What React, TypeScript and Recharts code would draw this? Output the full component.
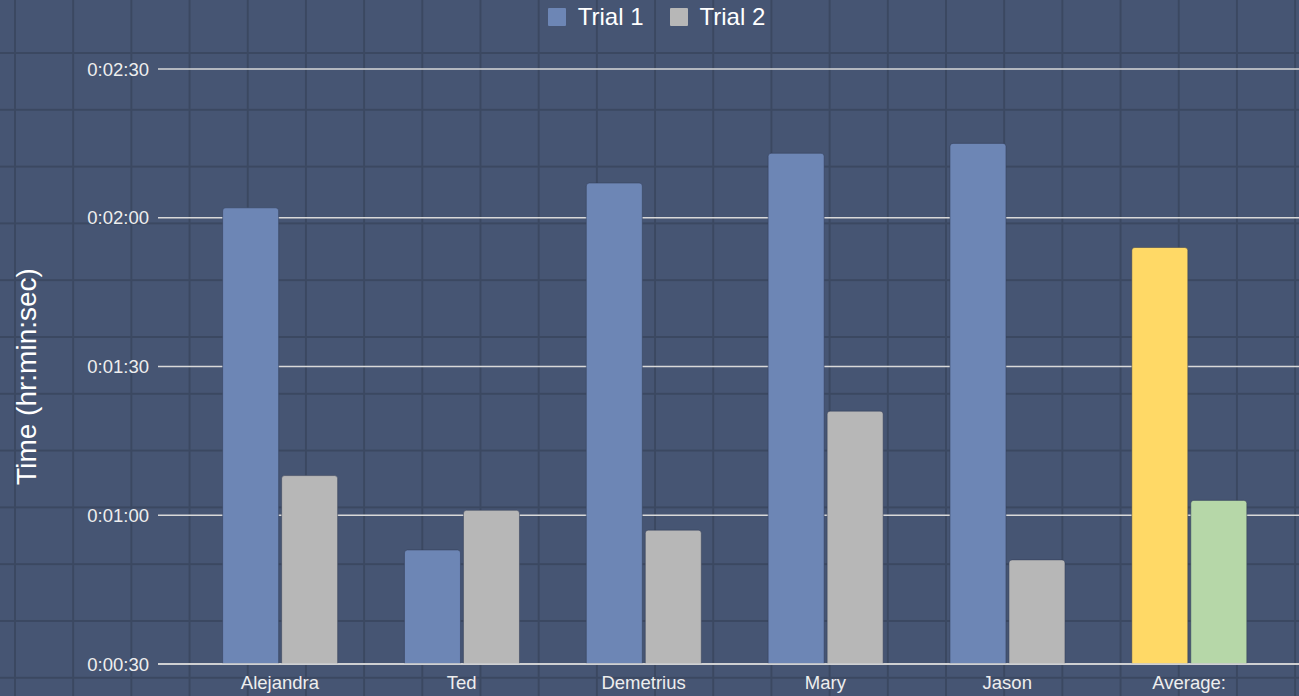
import React from 'react';
import { BarChart, Bar, XAxis, YAxis, CartesianGrid, Cell } from 'recharts';

const names = ['Alejandra', 'Ted', 'Demetrius', 'Mary', 'Jason', 'Average:'];
const trial1 = [122, 53, 127, 133, 135, 114];
const trial2 = [68, 61, 57, 81, 51, 63];
const yTicks = [30, 60, 90, 120, 150];
const seriesNames = ['Trial 1', 'Trial 2'];
const trial1Colors = ['#6d86b5', '#6d86b5', '#6d86b5', '#6d86b5', '#6d86b5', '#ffd966'];
const trial2Colors = ['#b7b7b7', '#b7b7b7', '#b7b7b7', '#b7b7b7', '#b7b7b7', '#b6d7a8'];

const data = names.map((n, i) => ({ name: n, t1: trial1[i], t2: trial2[i] }));

const fmt = (s: number) => {
  const m = Math.floor(s / 60);
  const sec = s % 60;
  return `0:${String(m).padStart(2, '0')}:${String(sec).padStart(2, '0')}`;
};

const font = '"Liberation Sans", Arial, sans-serif';

const LegendBox = () => (
  <div
    style={{
      position: 'absolute',
      left: 0,
      top: 4,
      width: 1299,
      display: 'flex',
      justifyContent: 'center',
      gap: 26,
      fontFamily: font,
      fontSize: 24,
      lineHeight: '26px',
      color: '#ffffff',
      paddingLeft: 14,
      boxSizing: 'border-box',
    }}
  >
    {seriesNames.map((n, i) => (
      <div key={n} style={{ display: 'flex', alignItems: 'center' }}>
        <div style={{ width: 18, height: 18, background: i === 0 ? '#6d86b5' : '#b7b7b7', marginRight: 12, borderRadius: 1 }} />
        <span>{n}</span>
      </div>
    ))}
  </div>
);

const YLabel = (props: any) => {
  const vb = props.viewBox || {};
  const x = 26;
  const y = (vb.y || 0) + (vb.height || 0) / 2 + 10;
  return (
    <text x={x} y={y} transform={`rotate(-90, ${x}, ${y})`} textAnchor="middle" dominantBaseline="central" fill="#ffffff" fontSize={28} fontFamily={font}>
      Time (hr:min:sec)
    </text>
  );
};

export default function App() {
  const gridColor = '#3b4861';
  return (
    <div
      style={{
        position: 'fixed',
        left: 0,
        top: 0,
        width: 1299,
        height: 696,
        backgroundColor: '#465573',
        backgroundImage: `linear-gradient(to right, ${gridColor} 2px, transparent 2px), linear-gradient(to bottom, ${gridColor} 2px, transparent 2px)`,
        backgroundSize: '58.2px 56.8px',
        backgroundPosition: '14px 52px',
      }}
    >
      <BarChart width={1299} height={696} data={data} margin={{ top: 69, right: 0, bottom: 0, left: 0 }} barCategoryGap="18.5%" barGap={3}>
        <CartesianGrid vertical={false} stroke="#d9d9d9" strokeWidth={1.3} />
        <XAxis
          dataKey="name"
          height={32}
          padding={{ left: 31, right: 19 }}
          axisLine={{ stroke: '#d9d9d9', strokeWidth: 1.3 }}
          tickLine={false}
          tickSize={0}
          tickMargin={12}
          tick={{ fill: '#eeeeee', fontSize: 18.5, fontFamily: font }}
          interval={0}
        />
        <YAxis
          width={158}
          domain={[30, 150]}
          ticks={yTicks}
          tickFormatter={fmt}
          allowDataOverflow
          axisLine={false}
          tickLine={false}
          tickSize={0}
          tickMargin={9}
          tick={{ fill: '#eeeeee', fontSize: 18.5, fontFamily: font }}
          label={<YLabel />}
        />
        <Bar dataKey="t1" name="Trial 1" isAnimationActive={false} radius={[3, 3, 0, 0]} stroke="rgba(50,60,85,0.5)" strokeWidth={1}>
          {data.map((d, i) => (
            <Cell key={d.name} fill={trial1Colors[i]} />
          ))}
        </Bar>
        <Bar dataKey="t2" name="Trial 2" isAnimationActive={false} radius={[3, 3, 0, 0]} stroke="rgba(50,60,85,0.5)" strokeWidth={1}>
          {data.map((d, i) => (
            <Cell key={d.name} fill={trial2Colors[i]} />
          ))}
        </Bar>
      </BarChart>
      <LegendBox />
    </div>
  );
}
